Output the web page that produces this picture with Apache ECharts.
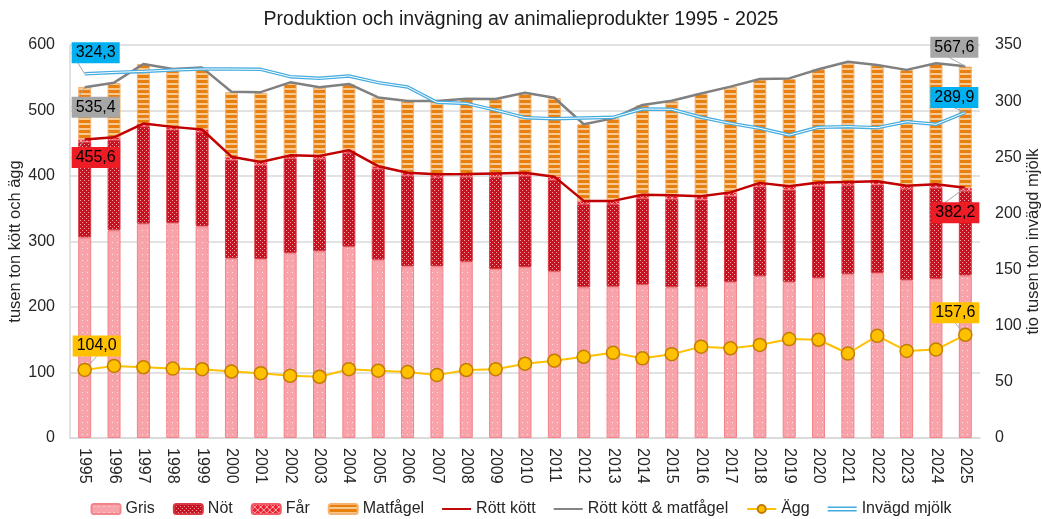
<!DOCTYPE html>
<html>
<head>
<meta charset="utf-8">
<script src="https://cdn.jsdelivr.net/npm/echarts@6/dist/echarts.min.js"></script>
<style>
  html, body { margin: 0; padding: 0; background: #fff; }
  #chart { width: 1042px; height: 519px; }
</style>
</head>
<body>
<div id="chart"></div>
<script>
// år
const years = ['1995', '1996', '1997', '1998', '1999', '2000', '2001', '2002', '2003', '2004',
  '2005', '2006', '2007', '2008', '2009', '2010', '2011', '2012', '2013', '2014',
  '2015', '2016', '2017', '2018', '2019', '2020', '2021', '2022', '2023', '2024', '2025']

// staplar, tusen ton
const gris = [306, 317, 327, 328, 323, 274, 273, 282, 285, 292, 272, 262, 262, 269, 258, 261,
  254, 230, 231, 234, 230, 230, 238, 247, 238, 244, 250, 252, 241, 243, 248]
const not = [146, 138, 149, 143, 144, 151, 144, 145, 141, 143, 139, 139, 136, 130, 141, 139,
  140, 127, 126, 132, 135, 134, 132, 137, 141, 141, 136, 135, 139, 139, 129]
const far = [4, 4, 4, 4, 4, 4, 4, 4, 4, 4, 4, 4, 4, 4, 5, 5,
  5, 5, 5, 5, 5, 5, 5, 5, 5, 5, 5, 5, 5, 5, 5]
const matfagel = [80, 83, 91, 88, 94, 99, 106, 111, 105, 101, 105, 109, 112, 115, 113, 122,
  120, 117, 126, 137, 144, 157, 161, 158, 164, 173, 183, 177, 177, 184, 185]

// linjer
const rottKott = [455.6, 459, 480, 475, 471, 429.5, 421.5, 431.5, 430.5, 439.5, 415, 405, 402.5,
  403, 404, 405, 399, 362, 362, 371.5, 370.5, 369, 375, 389.5, 384.5, 390, 391, 392, 385, 387.5, 382.2]
const rottKottMatfagel = [535.4, 542.5, 571, 563.5, 565.5, 528.5, 528, 543, 535.5, 540.5, 520,
  514.5, 514.5, 518, 517.5, 527, 519.5, 479, 488, 508.5, 515, 526, 536.5, 548, 549, 563, 574.5,
  569.5, 562, 572, 567.6]
const agg = [104.0, 110, 108, 106, 105, 101.5, 99, 95, 93.5, 105, 102.7, 100.7, 96, 103.8, 105,
  113.4, 118, 124, 130, 121.6, 128, 139.5, 137, 142, 151, 150, 129, 156, 133, 135, 157.6]
// tio tusen ton
const mjolk = [324.3, 325.6, 326.5, 327.7, 328.6, 328.6, 328.3, 321.8, 320.3, 322.4, 316.5,
  312.6, 299, 298, 292, 285.3, 284.4, 285, 285.6, 293, 292.7, 285.6, 280.2, 275.8, 269.8,
  276.7, 277.3, 276.4, 281.7, 279.4, 289.9]

const FONT = 'Liberation Sans'

// mönster för staplarna
function makePattern(w, h, draw) {
  const c = document.createElement('canvas')
  c.width = w
  c.height = h
  draw(c.getContext('2d'))
  return { image: c, repeat: 'repeat' }
}

const grisFill = makePattern(5, 6, (ctx) => {
  ctx.fillStyle = '#F7A3A9'
  ctx.fillRect(0, 0, 5, 6)
  ctx.fillStyle = '#FDE6E8'
  ctx.fillRect(2, 2, 1, 1)
})
const notFill = makePattern(4, 4, (ctx) => {
  ctx.fillStyle = '#C8101E'
  ctx.fillRect(0, 0, 4, 4)
  ctx.fillStyle = '#F0A8AE'
  ctx.fillRect(0, 0, 1, 1)
  ctx.fillRect(2, 2, 1, 1)
})
const farFill = makePattern(6, 6, (ctx) => {
  ctx.fillStyle = '#EE2030'
  ctx.fillRect(0, 0, 6, 6)
  ctx.strokeStyle = '#F8B0B6'
  ctx.lineWidth = 1
  ctx.beginPath()
  ctx.moveTo(0, 0); ctx.lineTo(6, 6)
  ctx.moveTo(6, 0); ctx.lineTo(0, 6)
  ctx.stroke()
})
const matfagelFill = makePattern(1, 5, (ctx) => {
  ctx.fillStyle = '#E8800F'
  ctx.fillRect(0, 0, 1, 5)
  ctx.fillStyle = '#F9C992'
  ctx.fillRect(0, 3, 1, 2)
})

const fmt = (v) => v.toFixed(1).replace('.', ',')
const last = years.length - 1

// etikett på första och sista punkten
function endLabels(data, bg) {
  return data.map((v, i) => {
    if (i !== 0 && i !== last) return v
    return {
      value: v,
      label: {
        show: true,
        position: 'inside',
        formatter: (p) => fmt(p.value),
        backgroundColor: bg,
        color: '#000',
        fontFamily: FONT,
        fontSize: 16,
        padding: [3, 4, 2, 4],
      },
      labelLine: { show: true, lineStyle: { color: '#A6A6A6', width: 1 } },
    }
  })
}

// flytta etiketten från punkten, med ledlinje
function layoutFor(offsets) {
  return (params) => {
    const o = params.dataIndex === 0 ? offsets[0] : offsets[1]
    const cx = params.rect.x + params.rect.width / 2
    const cy = params.rect.y + params.rect.height / 2
    return { x: cx + o[0], y: cy + o[1], align: 'center', verticalAlign: 'middle' }
  }
}

const barBase = {
  type: 'bar',
  stack: 'kott',
  barWidth: 13,
  yAxisIndex: 0,
}

const lineIcon = 'path://M0,4 L30,4 L30,6 L0,6 Z'
const doubleLineIcon = 'path://M0,2.5 L30,2.5 L30,4 L0,4 Z M0,6 L30,6 L30,7.5 L0,7.5 Z'

const chart = echarts.init(document.getElementById('chart'))

chart.setOption({
  animation: false,
  textStyle: { fontFamily: FONT },
  title: {
    text: 'Produktion och invägning av animalieprodukter 1995 - 2025',
    left: 'center',
    top: 5,
    textStyle: { fontFamily: FONT, fontSize: 19.5, fontWeight: 'normal', color: '#1a1a1a' },
  },
  legend: {
    bottom: 0,
    left: 'center',
    padding: [5, 5, 2, 5],
    itemGap: 18,
    itemWidth: 29,
    itemHeight: 10,
    textStyle: { fontFamily: FONT, fontSize: 16, color: '#262626' },
    data: [
      'Gris', 'Nöt', 'Får', 'Matfågel',
      { name: 'Rött kött', icon: lineIcon },
      { name: 'Rött kött & matfågel', icon: lineIcon },
      'Ägg',
      { name: 'Invägd mjölk', icon: doubleLineIcon },
    ],
  },
  grid: { left: 70, right: 62, top: 45, bottom: 81, outerBoundsMode: 'none' },
  xAxis: {
    type: 'category',
    data: years,
    axisLine: { lineStyle: { color: '#D9D9D9', width: 1.5 } },
    axisTick: { show: false },
    axisLabel: { rotate: -90, fontSize: 16, color: '#262626', fontFamily: FONT, margin: 10 },
  },
  yAxis: [
    {
      type: 'value',
      min: 0,
      max: 600,
      interval: 100,
      name: 'tusen ton kött och ägg',
      nameLocation: 'middle',
      nameGap: 46,
      nameMoveOverlap: false,
      nameTextStyle: { fontFamily: FONT, fontSize: 16.5, color: '#262626' },
      axisLine: { show: true, lineStyle: { color: '#D9D9D9', width: 1.5 } },
      axisLabel: { fontSize: 16, color: '#262626', fontFamily: FONT, margin: 15 },
      splitLine: { lineStyle: { color: '#D9D9D9', width: 1.5 } },
    },
    {
      type: 'value',
      min: 0,
      max: 350,
      interval: 50,
      name: 'tio tusen ton invägd mjölk',
      nameLocation: 'middle',
      nameGap: 45,
      nameMoveOverlap: false,
      nameRotate: 90,
      nameTextStyle: { fontFamily: FONT, fontSize: 16.5, color: '#262626' },
      axisLine: { show: false },
      axisLabel: { fontSize: 16, color: '#262626', fontFamily: FONT, margin: 15 },
      splitLine: { show: false },
    },
  ],
  series: [
    {
      ...barBase,
      name: 'Gris',
      data: gris,
      itemStyle: { color: grisFill, borderColor: '#F2848B', borderWidth: 1 },
    },
    {
      ...barBase,
      name: 'Nöt',
      data: not,
      itemStyle: { color: notFill, borderColor: '#D83A44', borderWidth: 1 },
    },
    {
      ...barBase,
      name: 'Får',
      data: far,
      itemStyle: { color: farFill, borderColor: '#F25A66', borderWidth: 0.5 },
    },
    {
      ...barBase,
      name: 'Matfågel',
      data: matfagel,
      itemStyle: { color: matfagelFill, borderColor: '#F6B273', borderWidth: 1 },
    },
    {
      type: 'line',
      name: 'Rött kött',
      yAxisIndex: 0,
      data: endLabels(rottKott, '#EE1C25'),
      symbol: 'circle',
      symbolSize: 0,
      lineStyle: { color: '#C00000', width: 2.5 },
      itemStyle: { color: '#C00000' },
      labelLayout: layoutFor([[11, 18], [-10, 25]]),
      z: 5,
    },
    {
      type: 'line',
      name: 'Rött kött & matfågel',
      yAxisIndex: 0,
      data: endLabels(rottKottMatfagel, '#A6A6A6'),
      symbol: 'circle',
      symbolSize: 0,
      lineStyle: { color: '#808080', width: 2.5 },
      itemStyle: { color: '#808080' },
      labelLayout: layoutFor([[11, 20], [-11, -19]]),
      z: 5,
    },
    {
      type: 'line',
      name: 'Ägg',
      yAxisIndex: 0,
      data: endLabels(agg, '#FFC000'),
      symbol: 'circle',
      symbolSize: 13,
      lineStyle: { color: '#FFC000', width: 2 },
      itemStyle: { color: '#FFC000', borderColor: '#C27C00', borderWidth: 1.5 },
      labelLayout: layoutFor([[12, -24], [-10, -22]]),
      z: 6,
    },
    {
      type: 'line',
      name: 'Invägd mjölk',
      yAxisIndex: 1,
      data: endLabels(mjolk, '#00B0F0'),
      symbol: 'circle',
      symbolSize: 0,
      lineStyle: { color: '#45ACE0', width: 3.5 },
      itemStyle: { color: '#45ACE0' },
      labelLayout: layoutFor([[11, -21], [-11, -15]]),
      z: 5,
    },
    {
      type: 'line',
      name: 'mjolk-inner',
      yAxisIndex: 1,
      data: mjolk,
      symbol: 'none',
      silent: true,
      lineStyle: { color: '#ffffff', width: 1 },
      z: 5,
    },
  ],
})
</script>
</body>
</html>
